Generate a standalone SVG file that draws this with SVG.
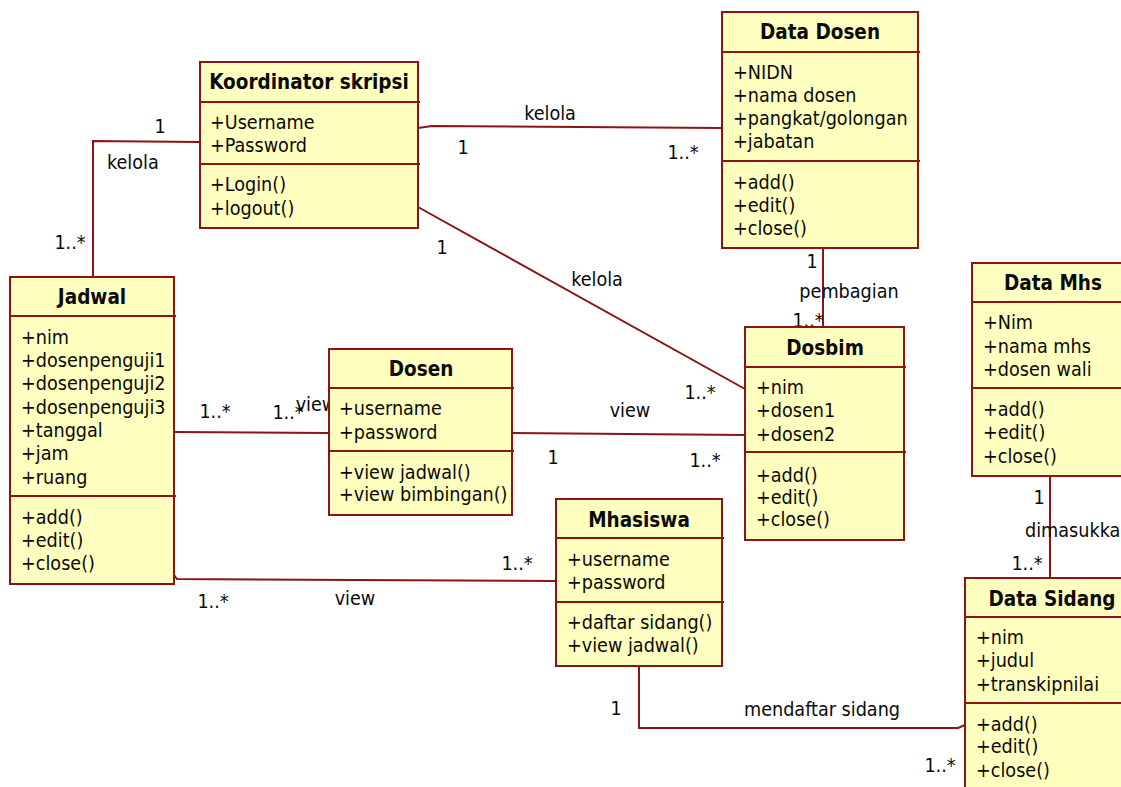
<svg xmlns="http://www.w3.org/2000/svg" width="1121" height="787" viewBox="0 0 1121 787">
<style>
text{font-family:"DejaVu Sans Condensed","DejaVu Sans",sans-serif;font-stretch:condensed;font-size:19.6px;fill:#0a0a0a}
.t{font-weight:bold;text-anchor:middle;font-size:20.5px}
.m{text-anchor:middle}
.box{fill:#ffffc0;stroke:#8c1414;stroke-width:2}
.div{stroke:#8c1414;stroke-width:2}
.c{fill:none;stroke:#8c1414;stroke-width:2}
</style>
<rect width="1121" height="787" fill="#fff"/>
<g id="connectors">
<polyline class="c" points="200,142 93,141 93,277"/>
<polyline class="c" points="418,128 432,126 722,128"/>
<line class="c" x1="418" y1="207" x2="745" y2="389"/>
<line class="c" x1="823" y1="248" x2="823" y2="327"/>
<line class="c" x1="174" y1="432" x2="329" y2="433"/>
<line class="c" x1="512" y1="433" x2="745" y2="435"/>
<polyline class="c" points="174,575 177,579 556,581"/>
<polyline class="c" points="639,666 639,728 958,728 965,725"/>
<line class="c" x1="1050" y1="476" x2="1050" y2="578"/>
<text x="160" y="133" class="m">1</text>
<text x="107" y="169">kelola</text>
<text x="70" y="249" class="m">1..*</text>
<text x="550" y="120" class="m">kelola</text>
<text x="463" y="154" class="m">1</text>
<text x="683" y="159" class="m">1..*</text>
<text x="442" y="254" class="m">1</text>
<text x="597" y="286" class="m">kelola</text>
<text x="700" y="399" class="m">1..*</text>
<text x="812" y="268" class="m">1</text>
<text x="849" y="298" class="m">pembagian</text>
<text x="808" y="327" class="m">1..*</text>
<text x="215" y="418" class="m">1..*</text>
<text x="288" y="419" class="m">1..*</text>
<text x="316" y="411" class="m">view</text>
<text x="630" y="417" class="m">view</text>
<text x="553" y="464" class="m">1</text>
<text x="705" y="467" class="m">1..*</text>
<text x="213" y="608" class="m">1..*</text>
<text x="355" y="605" class="m">view</text>
<text x="517" y="570" class="m">1..*</text>
<text x="616" y="715" class="m">1</text>
<text x="822" y="716" class="m">mendaftar sidang</text>
<text x="940" y="772" class="m">1..*</text>
<text x="1039" y="504" class="m">1</text>
<text x="1025" y="537">dimasukkan</text>
<text x="1027" y="570" class="m">1..*</text>
</g>
<g id="koordinator">
<rect class="box" x="200" y="62" width="218" height="166"/>
<line class="div" x1="200" y1="102" x2="420" y2="102"/>
<line class="div" x1="200" y1="164" x2="420" y2="164"/>
<text x="309" y="89" class="t">Koordinator skripsi</text>
<text x="210" y="129">+Username</text>
<text x="210" y="152">+Password</text>
<text x="210" y="191">+Login()</text>
<text x="210" y="215">+logout()</text>
</g>
<g id="data-dosen">
<rect class="box" x="722" y="12" width="196" height="236"/>
<line class="div" x1="722" y1="52" x2="920" y2="52"/>
<line class="div" x1="722" y1="161" x2="920" y2="161"/>
<text x="820" y="39" class="t">Data Dosen</text>
<text x="733" y="79">+NIDN</text>
<text x="733" y="102">+nama dosen</text>
<text x="733" y="125">+pangkat/golongan</text>
<text x="733" y="148">+jabatan</text>
<text x="733" y="189">+add()</text>
<text x="733" y="212">+edit()</text>
<text x="733" y="235">+close()</text>
</g>
<g id="jadwal">
<rect class="box" x="10" y="277" width="164" height="307"/>
<line class="div" x1="10" y1="316" x2="176" y2="316"/>
<line class="div" x1="10" y1="496" x2="176" y2="496"/>
<text x="92" y="304" class="t">Jadwal</text>
<text x="21" y="344">+nim</text>
<text x="21" y="367">+dosenpenguji1</text>
<text x="21" y="390">+dosenpenguji2</text>
<text x="21" y="414">+dosenpenguji3</text>
<text x="21" y="437">+tanggal</text>
<text x="21" y="460">+jam</text>
<text x="21" y="484">+ruang</text>
<text x="21" y="524">+add()</text>
<text x="21" y="547">+edit()</text>
<text x="21" y="570">+close()</text>
</g>
<g id="dosen">
<rect class="box" x="329" y="349" width="183" height="166"/>
<line class="div" x1="329" y1="388" x2="514" y2="388"/>
<line class="div" x1="329" y1="451" x2="514" y2="451"/>
<text x="421" y="376" class="t">Dosen</text>
<text x="339" y="415">+username</text>
<text x="339" y="439">+password</text>
<text x="339" y="479">+view jadwal()</text>
<text x="339" y="501">+view bimbingan()</text>
</g>
<g id="dosbim">
<rect class="box" x="745" y="327" width="159" height="213"/>
<line class="div" x1="745" y1="367" x2="906" y2="367"/>
<line class="div" x1="745" y1="452" x2="906" y2="452"/>
<text x="825" y="355" class="t">Dosbim</text>
<text x="756" y="394">+nim</text>
<text x="756" y="417">+dosen1</text>
<text x="756" y="441">+dosen2</text>
<text x="756" y="482">+add()</text>
<text x="756" y="504">+edit()</text>
<text x="756" y="526">+close()</text>
</g>
<g id="mahasiswa">
<rect class="box" x="556" y="499" width="166" height="167"/>
<line class="div" x1="556" y1="538" x2="724" y2="538"/>
<line class="div" x1="556" y1="602" x2="724" y2="602"/>
<text x="639" y="527" class="t">Mhasiswa</text>
<text x="567" y="566">+username</text>
<text x="567" y="589">+password</text>
<text x="567" y="629">+daftar sidang()</text>
<text x="567" y="652">+view jadwal()</text>
</g>
<g id="data-mhs">
<rect class="box" x="972" y="263" width="162" height="213"/>
<line class="div" x1="972" y1="302" x2="1136" y2="302"/>
<line class="div" x1="972" y1="388" x2="1136" y2="388"/>
<text x="1053" y="290" class="t">Data Mhs</text>
<text x="983" y="329">+Nim</text>
<text x="983" y="353">+nama mhs</text>
<text x="983" y="376">+dosen wali</text>
<text x="983" y="416">+add()</text>
<text x="983" y="439">+edit()</text>
<text x="983" y="463">+close()</text>
</g>
<g id="data-sidang">
<rect class="box" x="965" y="578" width="175" height="230"/>
<line class="div" x1="965" y1="617" x2="1142" y2="617"/>
<line class="div" x1="965" y1="703" x2="1142" y2="703"/>
<text x="1052" y="606" class="t">Data Sidang</text>
<text x="976" y="644">+nim</text>
<text x="976" y="667">+judul</text>
<text x="976" y="691">+transkipnilai</text>
<text x="976" y="731">+add()</text>
<text x="976" y="753">+edit()</text>
<text x="976" y="777">+close()</text>
</g>
</svg>
